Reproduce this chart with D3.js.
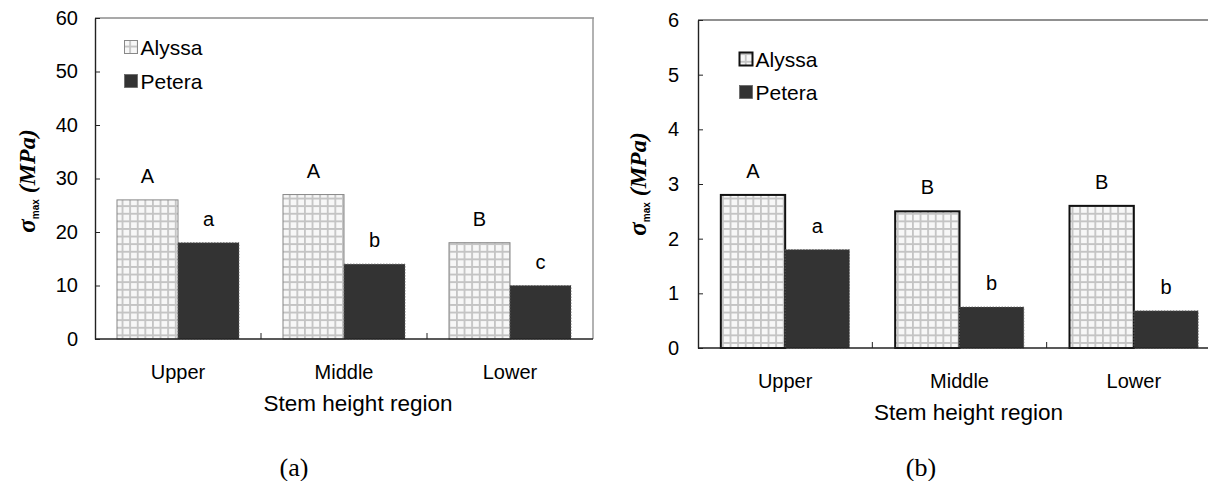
<!DOCTYPE html>
<html><head><meta charset="utf-8">
<script src="https://cdn.jsdelivr.net/npm/d3@7"></script>
<style>body{margin:0;background:#fff}svg{display:block}</style>
</head><body>
<svg id="c" width="1208" height="481"></svg>
<script>
const categories = ["Upper", "Middle", "Lower"];
const seriesNames = ["Alyssa", "Petera"];
// Panel (a)
const alyssaA = [26, 27, 18];
const peteraA = [18, 14, 10];
const lettersAlyssaA = ["A", "A", "B"];
const lettersPeteraA = ["a", "b", "c"];
const yTicksA = [0, 10, 20, 30, 40, 50, 60];
// Panel (b)
const alyssaB = [2.8, 2.5, 2.6];
const peteraB = [1.8, 0.75, 0.68];
const lettersAlyssaB = ["A", "B", "B"];
const lettersPeteraB = ["a", "b", "b"];
const yTicksB = [0, 1, 2, 3, 4, 5, 6];
const xTitle = "Stem height region";

const svg = d3.select("#c");
const defs = svg.append("defs");
const pat = defs.append("pattern").attr("id", "grid").attr("patternUnits", "userSpaceOnUse")
  .attr("width", 7.6).attr("height", 7.6);
pat.append("rect").attr("width", 7.6).attr("height", 7.6).attr("fill", "#f7f7f7");
pat.append("path").attr("d", "M0,0.9H7.6M0.9,0V7.6").attr("stroke", "#c4c4c4").attr("stroke-width", 1.8);

function panel(cfg) {
  const g = svg.append("g");
  const y = d3.scaleLinear().domain([0, cfg.ymax]).range([cfg.bottom, cfg.top]);
  const x = d3.scaleBand().domain(categories).range([cfg.left, cfg.right])
    .paddingInner(cfg.pad).paddingOuter(cfg.pad / 2);
  const xs = d3.scaleBand().domain(seriesNames).range([0, x.bandwidth()]);
  const rows = categories.map((c, i) => ({c, i}));

  // frame top/right
  g.append("line").attr("x1", cfg.left).attr("x2", cfg.right + 1).attr("y1", cfg.top).attr("y2", cfg.top)
    .attr("stroke", cfg.frameColor).attr("stroke-width", 1.2);
  if (cfg.right < 1208) g.append("line").attr("x1", cfg.right).attr("x2", cfg.right).attr("y1", cfg.top).attr("y2", cfg.bottom)
    .attr("stroke", "#999").attr("stroke-width", 1.5);

  // bars
  g.selectAll(".alyssa").data(rows).join("rect")
    .attr("x", d => x(d.c) + xs("Alyssa")).attr("width", xs.bandwidth())
    .attr("y", d => y(cfg.alyssa[d.i])).attr("height", d => y(0) - y(cfg.alyssa[d.i]))
    .attr("fill", "url(#grid)").attr("stroke", cfg.barStroke).attr("stroke-width", cfg.barStrokeW);
  g.selectAll(".petera").data(rows).join("rect")
    .attr("x", d => x(d.c) + xs("Petera")).attr("width", xs.bandwidth())
    .attr("y", d => y(cfg.petera[d.i])).attr("height", d => y(0) - y(cfg.petera[d.i]))
    .attr("fill", "#333").attr("stroke", "#666").attr("stroke-width", 0.8).attr("stroke-dasharray", "1.5,1.5");

  // letters
  const lf = "Liberation Sans, Arial, sans-serif";
  g.selectAll(".la").data(rows).join("text")
    .attr("x", d => x(d.c) + xs("Alyssa") + xs.bandwidth() / 2)
    .attr("y", d => y(cfg.alyssa[d.i]) - 17).attr("text-anchor", "middle")
    .attr("font-family", lf).attr("font-size", 20).text(d => cfg.lettersA[d.i]);
  g.selectAll(".lp").data(rows).join("text")
    .attr("x", d => x(d.c) + xs("Petera") + xs.bandwidth() / 2)
    .attr("y", d => y(cfg.petera[d.i]) - 17).attr("text-anchor", "middle")
    .attr("font-family", lf).attr("font-size", 20).text(d => cfg.lettersP[d.i]);

  // y axis
  const ay = g.append("g").attr("transform", `translate(${cfg.left},0)`)
    .call(d3.axisLeft(y).tickValues(cfg.yTicks).tickFormat(d3.format("d"))
      .tickSizeInner(-5).tickSizeOuter(0).tickPadding(cfg.tickPad));
  ay.select(".domain").attr("stroke", "#222").attr("stroke-width", 1.4);
  ay.selectAll(".tick line").attr("stroke", "#222");
  ay.selectAll(".tick text").attr("font-family", lf).attr("font-size", 20).attr("fill", "#000");

  // x axis baseline + inner ticks between categories
  g.append("line").attr("x1", cfg.left).attr("x2", cfg.right).attr("y1", y(0)).attr("y2", y(0))
    .attr("stroke", "#222").attr("stroke-width", 1.4);
  g.selectAll(".xt").data(categories.slice(1)).join("line")
    .attr("x1", d => x(d) - x.step() * x.paddingInner() / 2).attr("x2", d => x(d) - x.step() * x.paddingInner() / 2)
    .attr("y1", y(0)).attr("y2", y(0) - 6).attr("stroke", "#222").attr("stroke-width", 1);
  g.selectAll(".xl").data(categories).join("text")
    .attr("x", d => x(d) + x.bandwidth() / 2).attr("y", y(0) + 40).attr("text-anchor", "middle")
    .attr("font-family", lf).attr("font-size", 20).text(d => d);
  g.append("text").attr("x", (cfg.left + cfg.right) / 2 + cfg.titleDx).attr("y", y(0) + 72)
    .attr("text-anchor", "middle").attr("font-family", lf).attr("font-size", 22.5).text(xTitle);
  g.append("text").attr("x", cfg.capX).attr("y", 476).attr("text-anchor", "middle")
    .attr("font-family", "Liberation Serif, Times New Roman, serif").attr("font-size", 26).text(cfg.caption);

  // y label
  const yl = g.append("text").attr("transform", `translate(${cfg.ylX},${cfg.ylY}) rotate(-90)`)
    .attr("text-anchor", "middle").attr("font-family", "Liberation Serif, Times New Roman, serif")
    .attr("font-weight", "bold").attr("font-style", "italic");
  yl.append("tspan").attr("font-size", 25).text("σ");
  yl.append("tspan").attr("font-size", 10).attr("font-style", "normal").attr("font-family", lf).attr("dy", 4).text("max");
  yl.append("tspan").attr("font-size", 24).attr("dy", -4).text(" (MPa)");

  // legend
  const lg = g.append("g");
  cfg.legend.forEach((l, i) => {
    lg.append("rect").attr("x", l.x).attr("y", l.y - 6.5).attr("width", 13).attr("height", 13)
      .attr("fill", i === 0 ? "url(#grid)" : "#333")
      .attr("stroke", i === 0 ? cfg.barStroke : "#666").attr("stroke-width", i === 0 ? cfg.barStrokeW : 0.8);
    lg.append("text").attr("x", l.x + 16).attr("y", l.y + 7.5).attr("font-family", lf).attr("font-size", 21)
      .text(seriesNames[i]);
  });
}

panel({
  left: 95, right: 593, top: 18, bottom: 339, ymax: 60, pad: 0.265,
  alyssa: alyssaA, petera: peteraA, lettersA: lettersAlyssaA, lettersP: lettersPeteraA, yTicks: yTicksA,
  barStroke: "#888", barStrokeW: 1, frameColor: "#555", tickPad: 17, titleDx: 14, capX: 294, caption: "(a)",
  ylX: 35, ylY: 181, legend: [{x: 124.5, y: 47}, {x: 124.5, y: 81}]
});
panel({
  left: 698, right: 1221, top: 20, bottom: 348, ymax: 6, pad: 0.262,
  alyssa: alyssaB, petera: peteraB, lettersA: lettersAlyssaB, lettersP: lettersPeteraB, yTicks: yTicksB,
  barStroke: "#111", barStrokeW: 2, frameColor: "#222", tickPad: 19, titleDx: 9, capX: 921, caption: "(b)",
  ylX: 646, ylY: 184, legend: [{x: 739.5, y: 59}, {x: 739.5, y: 92}]
});
</script>
</body></html>
